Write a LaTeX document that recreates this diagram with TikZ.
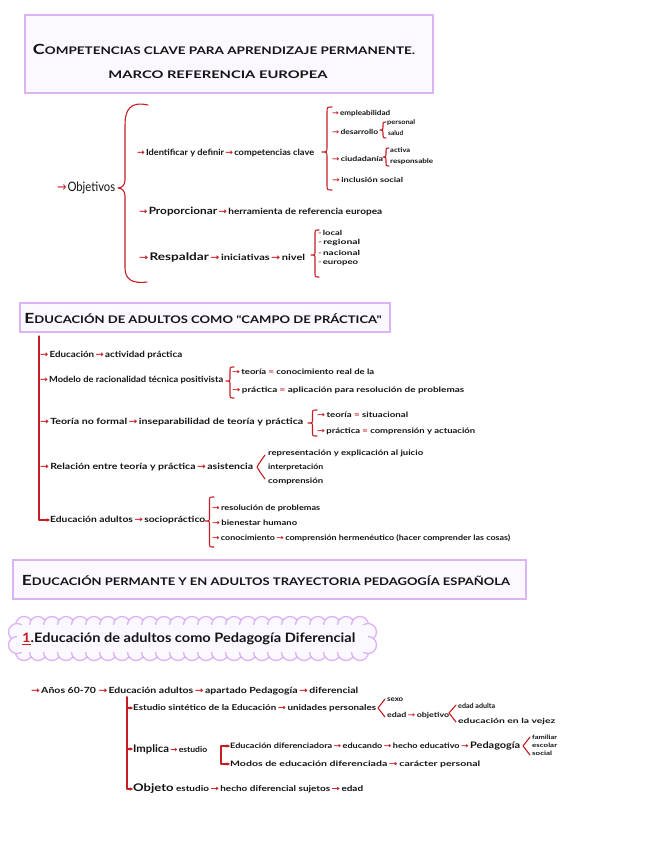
\documentclass[tikz,border=0pt]{standalone}
\usepackage{fontspec}
\usepackage{graphicx}
\setmainfont{Lato}
\newfontfamily\titfont{Lato}
\newfontfamily\arrowfont{DejaVu Sans}
\usetikzlibrary{arrows.meta}
\definecolor{ink}{HTML}{141414}
\definecolor{rd}{HTML}{C41E24}
\definecolor{lav}{HTML}{DCB4F4}
\definecolor{lavfill}{HTML}{FBF8FF}
\newcommand\fs[1]{\fontsize{#1}{#1}\selectfont}
\newcommand\W[2]{\resizebox{#1pt}{\height}{#2}}
\newcommand\ar{\hspace{1.2pt}{\arrowfont\textcolor{rd}{→}}\hspace{1.2pt}}
\newcommand\la{{\arrowfont\textcolor{rd}{→}}\hspace{1pt}}
\newcommand\eqr{\textcolor{rd}{=}}
\newcommand\dsh{\textcolor{rd}{-}\hspace{0.8pt}}
\newcommand\hsc[2]{{\fs{14}#1}{\fs{10.5}#2}}
% curly brace: #1 x tip, #2 width, #3 y top, #4 y tip, #5 y bottom, #6 corner
\newcommand\curly[6]{\draw[redline] ({#1+#2},#3) .. controls ({#1+0.5*#2},#3) .. ({#1+0.5*#2},{#3+#6}) -- ({#1+0.5*#2},{#4-#6}) .. controls ({#1+0.5*#2},#4) .. (#1,#4) .. controls ({#1+0.5*#2},#4) .. ({#1+0.5*#2},{#4+#6}) -- ({#1+0.5*#2},{#5-#6}) .. controls ({#1+0.5*#2},#5) .. ({#1+#2},#5);}
\begin{document}
\begin{tikzpicture}[x=1pt,y=-1pt,
  tx/.style={anchor=west, inner sep=0pt, text=ink, font=\fs{8.5}\bfseries},
  tit/.style={anchor=center, inner sep=0pt, text=ink, font=\titfont\bfseries},
  titlebox/.style={draw=lav, fill=lavfill, line width=1.4pt},
  redline/.style={draw=rd, line width=1.1pt, line cap=round, line join=round},
  tip/.style={-{Stealth[length=3.4pt,width=3.6pt]}}]
\useasboundingbox (0,0) rectangle (656,848);
\fill[white] (0,0) rectangle (656,848);

% ---------- Title 1
\path[titlebox] (25,15) rectangle (433,93);
\node[tit] (t1a) at (224,49) {\W{382}{\hsc{C}{OMPETENCIAS CLAVE PARA APRENDIZAJE PERMANENTE.}}};
\node[tit,font=\titfont\bfseries\fs{10.5}] (t1b) at (218,75) {\W{219}{MARCO REFERENCIA EUROPEA}};

% ---------- Section 1
\node[tx,font=\fs{13}] (obj) at (57,188) {\W{58}{\la Objetivos}};
\draw[redline] (148,105) .. controls (130,101) and (125,110) .. (125,125) -- (125,180) .. controls (125,185) and (122,188) .. (118,188) .. controls (122,188) and (125,191) .. (125,196) -- (125,268) .. controls (125,279) and (132,284) .. (147,282);

\node[tx] (idf) at (137,153) {\W{177}{\la Identificar y definir\ar competencias clave}};
\curly{322}{10}{107}{152}{190}{6}
\node[tx,font=\fs{7}\bfseries] (emp) at (332,113) {\W{58}{\la empleabilidad}};
\node[tx,font=\fs{7}\bfseries] (des) at (332,132) {\W{46}{\la desarrollo}};
\curly{380}{6}{122}{130}{138}{3}
\node[tx,font=\fs{6.5}\bfseries] (per) at (387,123) {\W{28}{personal}};
\node[tx,font=\fs{6.5}\bfseries] (sal) at (388,133) {\W{15}{salud}};
\node[tx,font=\fs{7}\bfseries] (ciu) at (332,159) {\W{51}{\la ciudadanía}};
\curly{383}{6}{148}{157}{166}{3}
\node[tx,font=\fs{6.5}\bfseries] (act) at (390,150) {\W{20}{activa}};
\node[tx,font=\fs{6.5}\bfseries] (res) at (390,162) {\W{43}{responsable}};
\node[tx,font=\fs{7}\bfseries] (inc) at (332,180) {\W{71}{\la inclusión social}};

\node[tx] (pro) at (139,212) {\W{243}{\la{\fs{10}Proporcionar}\ar herramienta de referencia europea}};
\node[tx] (resp) at (139,257) {\W{166}{\la{\fs{10.5}Respaldar}\ar iniciativas\ar nivel}};
\curly{311}{8}{230}{255}{277}{4}
\node[tx,font=\fs{7}\bfseries] (loc) at (318,233) {\W{24}{\dsh local}};
\node[tx,font=\fs{7}\bfseries] (reg) at (318,243) {\W{42}{\dsh regional}};
\node[tx,font=\fs{7}\bfseries] (nac) at (318,253) {\W{42}{\dsh nacional}};
\node[tx,font=\fs{7}\bfseries] (eur) at (318,263) {\W{40}{\dsh europeo}};

% ---------- Title 2
\path[titlebox] (20,303) rectangle (390,332);
\node[tit] (t2) at (203,318) {\W{357}{\hsc{E}{DUCACIÓN DE ADULTOS COMO "CAMPO DE PRÁCTICA"}}};

% ---------- Section 2
\coordinate (s2top) at (39,336);
\node[tx] (s2a) at (40,355) {\W{142}{\la Educación\ar actividad práctica}};
\node[tx] (s2b) at (40,380) {\W{183}{\la Modelo de racionalidad técnica positivista}};
\curly{226}{8}{367}{381}{398}{4}
\node[tx,font=\fs{7.5}\bfseries] (s2b1) at (232,372) {\W{142}{\la teoría \eqr\ conocimiento real de la}};
\node[tx,font=\fs{7.5}\bfseries] (s2b2) at (232,390) {\W{232}{\la práctica \eqr\ aplicación para resolución de problemas}};
\node[tx] (s2c) at (40,422) {\W{263}{\la Teoría no formal\ar inseparabilidad de teoría y práctica}};
\curly{308}{9}{410}{423}{436}{4}
\node[tx,font=\fs{7.5}\bfseries] (s2c1) at (317,415) {\W{91}{\la teoría \eqr\ situacional}};
\node[tx,font=\fs{7.5}\bfseries] (s2c2) at (317,431) {\W{158}{\la práctica \eqr\ comprensión y actuación}};
\node[tx] (s2d) at (40,467) {\W{213}{\la Relación entre teoría y práctica\ar asistencia}};
\draw[redline] (265,455) .. controls (260,462) .. (257,467) .. controls (260,472) .. (265,479);
\node[tx,font=\fs{7.5}\bfseries] (s2d1) at (268,453) {\W{155}{representación y explicación al juicio}};
\node[tx,font=\fs{7.5}\bfseries] (s2d2) at (268,467) {\W{55}{interpretación}};
\node[tx,font=\fs{7.5}\bfseries] (s2d3) at (268,481) {\W{55}{comprensión}};
\node[tx] (edu) at (50,520) {\W{155}{Educación adultos\ar sociopráctico}};
\draw[redline,tip] (s2top) |- (edu.west);
\curly{205}{9}{497}{521}{547}{4}
\node[tx,font=\fs{7.5}\bfseries] (s2e1) at (212,508) {\W{108}{\la resolución de problemas}};
\node[tx,font=\fs{7.5}\bfseries] (s2e2) at (212,523) {\W{85}{\la bienestar humano}};
\node[tx,font=\fs{7.5}\bfseries] (s2e3) at (212,538) {\W{298}{\la conocimiento\ar comprensión hermenéutico (hacer comprender las cosas)}};

% ---------- Title 3
\path[titlebox] (13,560) rectangle (526,599);
\node[tit] (t3) at (266,580) {\W{488}{\hsc{E}{DUCACIÓN PERMANTE Y EN ADULTOS TRAYECTORIA PEDAGOGÍA ESPAÑOLA}}};

% ---------- Cloud heading
\foreach \cx in {24,38,...,360} {
  \path[draw=lav, fill=lavfill, line width=1.3pt] (\cx,625) circle[radius=8.5];
  \path[draw=lav, fill=lavfill, line width=1.3pt] (\cx,652) circle[radius=8.5];
}
\path[draw=lav, fill=lavfill, line width=1.3pt] (368,632) circle[radius=8.5];
\path[draw=lav, fill=lavfill, line width=1.3pt] (368,645) circle[radius=8.5];
\path[draw=lav, fill=lavfill, line width=1.3pt] (17,632) circle[radius=8.5];
\path[draw=lav, fill=lavfill, line width=1.3pt] (17,645) circle[radius=8.5];
\fill[lavfill] (17,625) rectangle (368,652);
\node[tx,font=\fs{13}\bfseries] (cl) at (22,639) {\W{333}{\textcolor{rd}{\underline{1}}.Educación de adultos como Pedagogía Diferencial}};

% ---------- Section 4
\node[tx] (s4a) at (31,691) {\W{327}{\la Años 60-70 \la Educación adultos\ar apartado Pedagogía\ar diferencial}};
\coordinate (s4top) at (127,697);
\coordinate (s4mid) at (127,749);
\node[tx,font=\fs{8}\bfseries] (s4b) at (133,708) {\W{243}{Estudio sintético de la Educación\ar unidades personales}};
\draw[redline] (385,699) .. controls (381,704) .. (378,708) .. controls (381,712) .. (385,717);
\node[tx,font=\fs{7}\bfseries] (sex) at (387,700) {\W{16}{sexo}};
\node[tx,font=\fs{7}\bfseries] (eda) at (387,716) {\W{62}{edad\ar objetivo}};
\draw[redline] (456,705) .. controls (452,709) .. (449,713) .. controls (452,717) .. (456,722);
\node[tx,font=\fs{7}\bfseries] (ead) at (458,706) {\W{37}{edad adulta}};
\node[tx,font=\fs{7}\bfseries] (evj) at (458,722) {\W{97}{educación en la vejez}};
\node[tx,font=\fs{8}\bfseries] (s4c) at (133,749) {\W{74}{{\fs{10.5}Implica}\ar estudio}};
\coordinate (brk) at (221,755);
\node[tx,font=\fs{7.5}\bfseries] (s4c1) at (230,746) {\W{290}{Educación diferenciadora\ar educando\ar hecho educativo\ar{\fs{9}Pedagogía}}};
\node[tx,font=\fs{7.5}\bfseries] (s4c2) at (230,764) {\W{250}{Modos de educación diferenciada\ar carácter personal}};
\draw[redline] (530,737) .. controls (526,742) .. (523,746) .. controls (526,750) .. (530,755);
\node[tx,font=\fs{6}\bfseries] (fam) at (532,737) {\W{25}{familiar}};
\node[tx,font=\fs{6}\bfseries] (esc) at (532,745) {\W{25}{escolar}};
\node[tx,font=\fs{6}\bfseries] (soc) at (532,753) {\W{20}{social}};
\node[tx,font=\fs{8}\bfseries] (s4d) at (133,789) {\W{230}{{\fs{10.5}Objeto} estudio\ar hecho diferencial sujetos\ar edad}};
\draw[redline,tip] (s4top) |- (s4b.west);
\draw[redline,tip] (s4top) |- (s4d.west);
\draw[redline,tip] (s4mid) -- (s4c.west);
\draw[redline,tip] (brk) |- (s4c1.west);
\draw[redline,tip] (brk) |- (s4c2.west);
\end{tikzpicture}
\end{document}
